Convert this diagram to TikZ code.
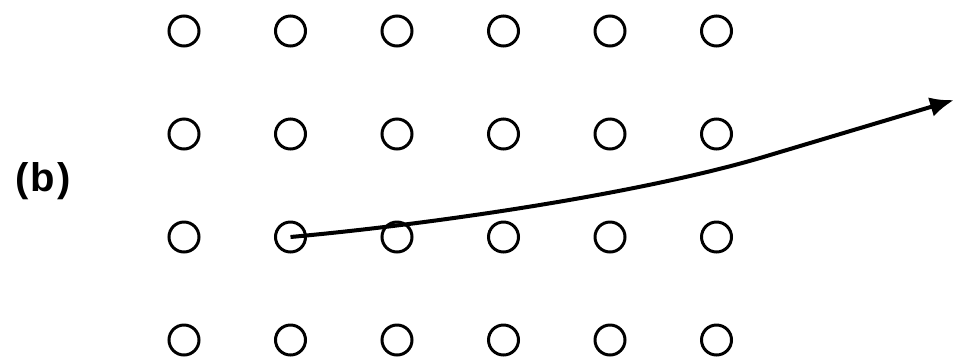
\documentclass[tikz,border=0pt]{standalone}
\usepackage{fontspec}
\setmainfont{Liberation Sans}
\usetikzlibrary{arrows.meta}
\begin{document}
\begin{tikzpicture}[x=1pt,y=-1pt,
  site/.style={draw=black,circle,line width=3pt,minimum size=30pt,inner sep=0pt},
  path arrow/.style={line width=4pt,-{Latex[length=24pt,width=20pt]}},
  lbl/.style={font=\fontsize{40}{44}\selectfont\bfseries,inner sep=0pt}]
\useasboundingbox (0,0) rectangle (955,360);
\foreach \i in {1,...,6}{
  \foreach \j in {1,...,4}{
    \node[site] (c\i\j) at ({184+106.5*(\i-1)},{31+103*(\j-1)}) {};
  }
}
\node[lbl] (label) at (43,181) {(\kern2pt b\kern2pt)};
\coordinate (bend) at (760,158);
\coordinate (tip) at (954,100);
\draw[path arrow] (c23.center) .. controls (443,223) and (640,193) .. (bend) -- (tip);
\end{tikzpicture}
\end{document}
